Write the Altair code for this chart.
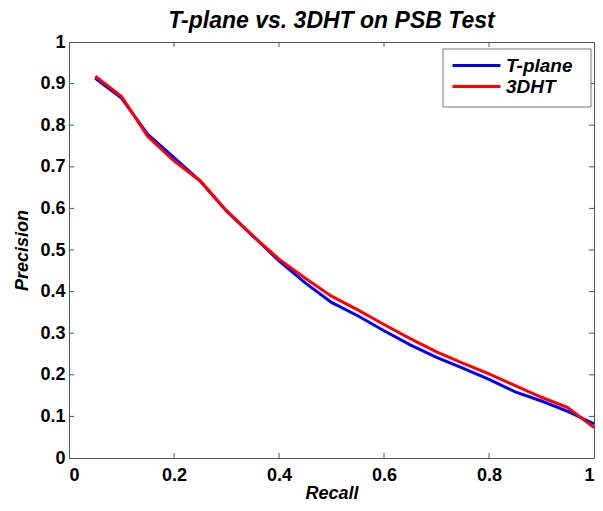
import altair as alt
import pandas as pd

recall = [0.05, 0.10, 0.15, 0.20, 0.25, 0.30, 0.35, 0.40, 0.45, 0.50,
          0.55, 0.60, 0.65, 0.70, 0.75, 0.80, 0.85, 0.90, 0.95, 1.00]
tplane = [0.913, 0.865, 0.778, 0.722, 0.666, 0.594, 0.534, 0.474, 0.421, 0.374,
          0.342, 0.306, 0.272, 0.242, 0.216, 0.189, 0.159, 0.137, 0.112, 0.082]
dht = [0.918, 0.869, 0.773, 0.714, 0.666, 0.594, 0.534, 0.478, 0.432, 0.389,
       0.356, 0.321, 0.287, 0.255, 0.228, 0.202, 0.174, 0.146, 0.121, 0.073]
series_names = ["T-plane", "3DHT"]
series_colors = ["#0000ff", "#ff0000"]
xticks = [0, 0.2, 0.4, 0.6, 0.8, 1.0]
yticks = [0, 0.1, 0.2, 0.3, 0.4, 0.5, 0.6, 0.7, 0.8, 0.9, 1.0]

rows = []
for i, r in enumerate(recall):
    rows.append({"Recall": r, "Precision": tplane[i], "Method": "T-plane", "ord": 0})
for i, r in enumerate(recall):
    rows.append({"Recall": r, "Precision": dht[i], "Method": "3DHT", "ord": 1})
df = pd.DataFrame(rows)

W, H = 525, 416
FONT = "Liberation Sans"
LBL = "datum.value == 0 ? '0' : datum.value == 1 ? '1' : format(datum.value, '.1f')"

xs = alt.Scale(domain=[0, 1], nice=False, zero=False)
ys = alt.Scale(domain=[0, 1], nice=False, zero=False)

lines = alt.Chart(df).mark_line(strokeWidth=3).encode(
    x=alt.X("Recall:Q", scale=xs,
            axis=alt.Axis(values=xticks, title="Recall", ticks=False, labelExpr=LBL,
                          labelPadding=8, titlePadding=0)),
    y=alt.Y("Precision:Q", scale=ys,
            axis=alt.Axis(values=yticks, title="Precision", ticks=False, labelExpr=LBL,
                          labelPadding=4, titlePadding=8)),
    color=alt.Color("Method:N", scale=alt.Scale(domain=series_names, range=series_colors),
                    legend=alt.Legend(title=None, orient="none", legendX=392, legendY=8,
                                      symbolType="M-3,0L3,0", symbolSize=256, symbolStrokeWidth=3,
                                      labelFont=FONT, labelFontSize=19, labelFontWeight="bold",
                                      labelFontStyle="italic", labelColor="black",
                                      padding=6, rowPadding=1, labelOffset=20)),
    order=alt.Order("ord:Q"),
    detail="Method:N",
)

legend_box = alt.Chart(pd.DataFrame({"a": [0]})).mark_rect(
    fill="white", stroke="#777", strokeWidth=1).encode(
    x=alt.value(374), x2=alt.value(522), y=alt.value(7), y2=alt.value(65))

xt = pd.DataFrame({"v": xticks[1:-1]})
yt = pd.DataFrame({"v": yticks[1:-1]})
tick_style = dict(color="#555", strokeWidth=1)
bottom_ticks = alt.Chart(xt).mark_rule(**tick_style).encode(
    x=alt.X("v:Q", scale=xs), y=alt.value(H), y2=alt.value(H - 5))
top_ticks = alt.Chart(xt).mark_rule(**tick_style).encode(
    x=alt.X("v:Q", scale=xs), y=alt.value(0), y2=alt.value(5))
left_ticks = alt.Chart(yt).mark_rule(**tick_style).encode(
    y=alt.Y("v:Q", scale=ys), x=alt.value(0), x2=alt.value(5))
right_ticks = alt.Chart(yt).mark_rule(**tick_style).encode(
    y=alt.Y("v:Q", scale=ys), x=alt.value(W), x2=alt.value(W - 5))

chart = alt.layer(lines, bottom_ticks, top_ticks, left_ticks, right_ticks, legend_box).properties(
    width=W, height=H,
    title=alt.TitleParams("T-plane vs. 3DHT on PSB Test", font=FONT, fontSize=23,
                          fontWeight="bold", fontStyle="italic", color="black", offset=0),
    autosize=alt.AutoSizeParams(type="none"),
    padding={"left": 61, "top": 34, "right": 1, "bottom": 44},
).configure_view(stroke="#555", strokeWidth=1).configure_axis(
    domainColor="#555", labelFont=FONT, labelFontSize=18, labelFontWeight="bold",
    labelColor="black", titleFont=FONT, titleFontSize=18, titleFontWeight="bold",
    titleFontStyle="italic", titleColor="black", grid=False,
)

chart.save("out.html", embed_options={"renderer": "svg", "actions": False})
